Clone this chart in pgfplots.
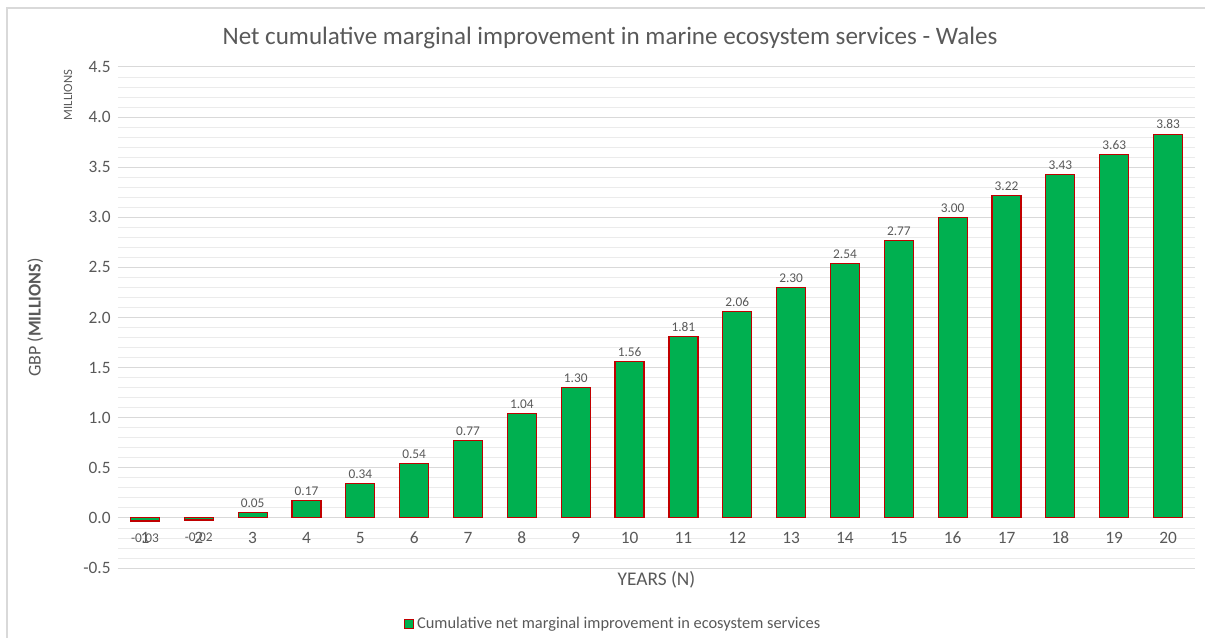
\documentclass[border=0pt]{standalone}
\usepackage{pgfplots}
\pgfplotsset{compat=1.18}
\usepackage{fontspec}
\setmainfont{Carlito}
\definecolor{txt}{HTML}{595959}
\definecolor{barg}{HTML}{00B050}
\definecolor{barr}{HTML}{C00000}
\definecolor{majg}{HTML}{D9D9D9}
\definecolor{ming}{HTML}{EBEBEB}
\begin{document}
\begin{tikzpicture}[x=0.75pt,y=0.75pt]
\useasboundingbox (0,0) rectangle (1205,638);
\draw[majg, line width=0.9pt] (7,0) -- (7,630) -- (1205,630);
\node[txt, font=\fontsize{18.8}{22}\selectfont] at (610,600) {Net cumulative marginal improvement in marine ecosystem services - Wales};
\node[txt, font=\fontsize{9.5}{11}\selectfont, rotate=90] at (68,543) {MILLIONS};
\begin{axis}[
  at={(88.5pt,52.5pt)}, anchor=south west,
  width=807.75pt, height=375.75pt, scale only axis,
  xmin=0.5, xmax=20.5, ymin=-0.5, ymax=4.5,
  ybar, bar width=21.75pt, bar shift=0pt,
  xtick={1,...,20},
  ytick={-0.5,0,0.5,1,1.5,2,2.5,3,3.5,4,4.5},
  minor y tick num=4,
  ymajorgrids, yminorgrids,
  major grid style={majg, line width=0.75pt},
  minor grid style={ming, line width=0.6pt},
  axis line style={draw=none},
  major tick style={draw=none}, minor tick style={draw=none},
  tick label style={txt, font=\fontsize{13}{15}\selectfont},
  /pgf/number format/assume math mode=true,
  yticklabel style={xshift=-2pt, /pgf/number format/fixed, /pgf/number format/fixed zerofill, /pgf/number format/precision=1, /pgf/number format/assume math mode=true},
  xticklabel style={anchor=center, yshift=27pt},
  xlabel={YEARS (N)},
  xlabel style={txt, font=\fontsize{14.5}{17}\selectfont, at={(axis description cs:0.5,0)}, anchor=center, yshift=-9pt},
  ylabel={GBP (\textbf{MILLIONS})},
  ylabel style={txt, font=\fontsize{13.5}{16}\selectfont, at={([xshift=-62pt]axis description cs:0,0.5)}, anchor=center},
  nodes near coords,
  nodes near coords style={txt, font=\fontsize{10}{12}\selectfont, /pgf/number format/fixed, /pgf/number format/fixed zerofill, /pgf/number format/precision=2, /pgf/number format/assume math mode=true},
  legend style={draw=none, fill=none, at={(axis description cs:0.46,-0.112)}, anchor=center, font=\fontsize{12.3}{14}\selectfont, text=txt},
  legend image code/.code={\draw[#1] (-3pt,-3.5pt) rectangle (4pt,3.5pt);},
  clip=false,
]
\addplot[fill=barg, draw=barr, line width=0.9pt] coordinates {
(3,0.05) (4,0.17) (5,0.34) (6,0.54) (7,0.77) (8,1.04) (9,1.30) (10,1.56)
(11,1.81) (12,2.06) (13,2.30) (14,2.54) (15,2.77) (16,3.00) (17,3.22) (18,3.43) (19,3.63) (20,3.83)};
\addlegendentry{Cumulative net marginal improvement in ecosystem services}
\addplot[fill=barg, draw=barr, line width=0.9pt, forget plot,
  every node near coord/.append style={yshift=-6pt}] coordinates {(1,-0.03) (2,-0.02)};
\end{axis}
\end{tikzpicture}
\end{document}
